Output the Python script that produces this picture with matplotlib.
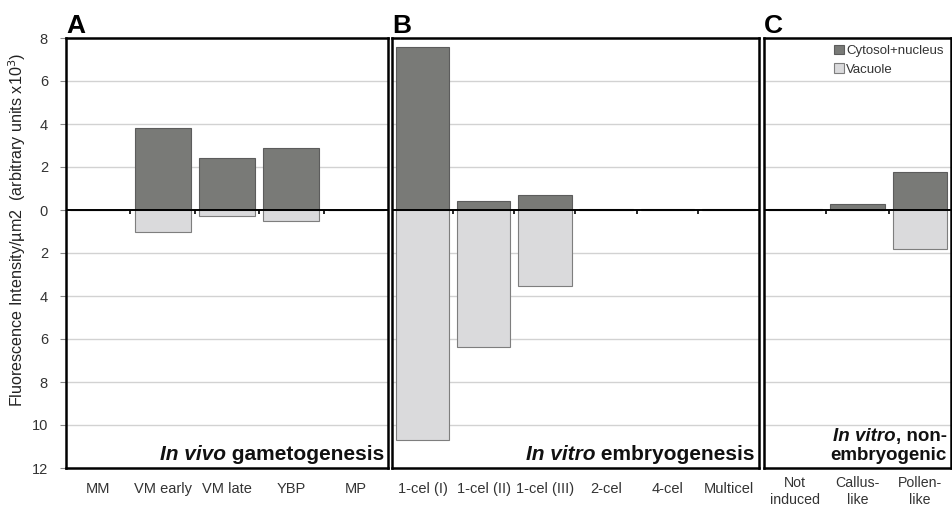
import matplotlib
matplotlib.use("Agg")
import matplotlib.pyplot as plt
import numpy as np
from matplotlib.offsetbox import TextArea, HPacker, VPacker, AnchoredOffsetbox
from matplotlib.patches import Patch

plt.rcParams['font.family'] = ['Liberation Sans', 'DejaVu Sans']

# ---- data ----
cats_a = ["MM", "VM early", "VM late", "YBP", "MP"]
cyto_a = [0.0, 3.8, 2.4, 2.9, 0.0]
vac_a = [0.0, 1.0, 0.3, 0.5, 0.0]

cats_b = ["1-cel (I)", "1-cel (II)", "1-cel (III)", "2-cel", "4-cel", "Multicel"]
cyto_b = [7.6, 0.4, 0.7, 0.05, 0.03, 0.05]
vac_b = [10.7, 6.35, 3.55, 0.0, 0.0, 0.0]

cats_c = ["Not\ninduced", "Callus-\nlike", "Pollen-\nlike"]
cyto_c = [0.03, 0.3, 1.75]
vac_c = [0.0, 0.0, 1.8]

yticks = [8, 6, 4, 2, 0, -2, -4, -6, -8, -10, -12]
ytick_labels = ["8", "6", "4", "2", "0", "2", "4", "6", "8", "10", "12"]

DARK = "#797a77"
DARK_EDGE = "#5c5c5c"
LIGHT = "#dadadc"
LIGHT_EDGE = "#7e7e7e"

W, H = 953, 505
fig = plt.figure(figsize=(W / 100, H / 100), dpi=100)

def fx(px):
    return px / W

bottom = 1 - 468 / H
height = (468 - 38) / H
axA = fig.add_axes([fx(66), bottom, fx(388 - 66), height])
axB = fig.add_axes([fx(392), bottom, fx(759 - 392), height])
axC = fig.add_axes([fx(764), bottom, fx(951 - 764), height])

panels = [
    (axA, cats_a, cyto_a, vac_a, "A"),
    (axB, cats_b, cyto_b, vac_b, "B"),
    (axC, cats_c, cyto_c, vac_c, "C"),
]

for ax, cats, cyto, vac, letter in panels:
    n = len(cats)
    x = np.arange(n)
    ax.set_xlim(-0.5, n - 0.5)
    ax.set_ylim(-12, 8)
    ax.set_yticks(yticks)
    for yv in yticks:
        if yv not in (0, 8, -12):
            ax.axhline(yv, color="#d2d2d2", lw=1.0, zorder=0)
    ax.bar(x, cyto, width=0.87, color=DARK, edgecolor=DARK_EDGE, lw=0.8, zorder=2)
    ax.bar(x, [-v for v in vac], width=0.87, color=LIGHT, edgecolor=LIGHT_EDGE, lw=0.8, zorder=2)
    ax.axhline(0, color="black", lw=1.4, zorder=3)
    ax.vlines(x[:-1] + 0.5, -0.2, 0, color="black", lw=1.2, zorder=3)
    ax.set_xticks(x)
    if ax is axC:
        ax.set_xticklabels(cats, fontsize=10.2, color="#333333", linespacing=1.2)
        ax.tick_params(axis="x", length=0, pad=6)
    else:
        ax.set_xticklabels(cats, fontsize=10.5, color="#333333")
        ax.tick_params(axis="x", length=0, pad=10)
    for s in ax.spines.values():
        s.set_linewidth(1.8)
        s.set_color("black")
    ax.text(0.0, 1.0, letter, transform=ax.transAxes, fontsize=19, fontweight="bold",
            ha="left", va="bottom")
    if ax is axA:
        ax.set_yticklabels(ytick_labels, fontsize=10.5, color="#333333")
        ax.tick_params(axis="y", length=4, width=0.8, pad=9, color="#888888")
    else:
        ax.tick_params(axis="y", length=0, labelleft=False)

axA.set_ylabel("Fluorescence Intensity/µm2  (arbitrary units x10$^3$)", fontsize=11.6,
               color="#222222")
axA.yaxis.set_label_coords(-0.118, 0.553)

def label_box(ax, lines, size):
    rows = []
    for parts in lines:
        areas = []
        for txt, style in parts:
            areas.append(TextArea(txt, textprops=dict(fontsize=size, fontweight="bold",
                                                       fontstyle=style, color="#111111")))
        rows.append(HPacker(children=areas, align="baseline", pad=0, sep=0))
    box = VPacker(children=rows, align="right", pad=0, sep=1)
    anch = AnchoredOffsetbox(loc="lower right", child=box, pad=0.15, borderpad=0.15,
                             frameon=False)
    ax.add_artist(anch)

label_box(axA, [[("In vivo", "italic"), (" gametogenesis", "normal")]], 15)
label_box(axB, [[("In vitro", "italic"), (" embryogenesis", "normal")]], 15)
label_box(axC, [[("In vitro", "italic"), (", non-", "normal")], [("embryogenic", "normal")]], 13.5)

handles = [Patch(facecolor=DARK, edgecolor=DARK_EDGE, lw=0.8, label="Cytosol+nucleus"),
           Patch(facecolor=LIGHT, edgecolor=LIGHT_EDGE, lw=0.8, label="Vacuole")]
leg = axC.legend(handles=handles, loc="upper right", frameon=False, fontsize=9.5,
                 handlelength=0.7, handleheight=0.7, handletextpad=0.2,
                 labelspacing=0.45, borderaxespad=0.15)
for t in leg.get_texts():
    t.set_color("#333333")

fig.savefig("out.png", dpi=100)
